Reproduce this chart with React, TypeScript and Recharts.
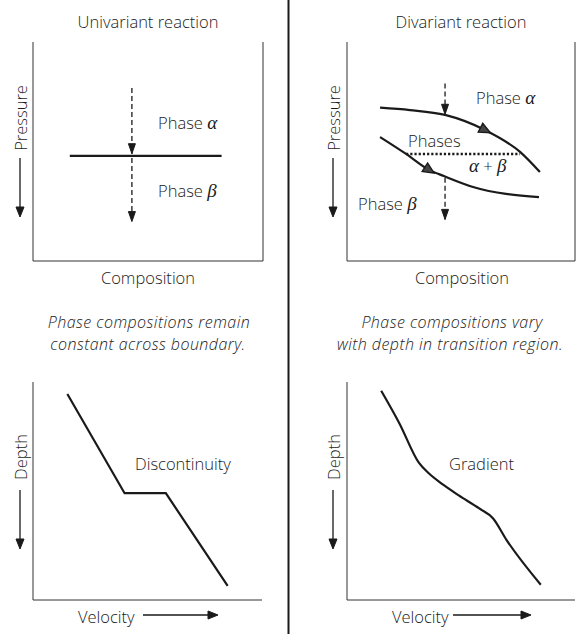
import React from "react";
import { LineChart, Line, XAxis, YAxis, ReferenceLine, ReferenceDot } from "recharts";

// top-left: univariant reaction (domain 0-100 both ways)
const uniBoundary = [{ x: 16, y: 48 }, { x: 82, y: 48 }];
const uniArrowAbove = [{ x: 43, y: 79 }, { x: 43, y: 49 }];
const uniArrowBelow = [{ x: 43, y: 47 }, { x: 43, y: 18 }];

// top-right: divariant reaction
const diUpper = [
  { x: 14.5, y: 70 },
  { x: 27.6, y: 68.9 },
  { x: 43, y: 66.7 },
  { x: 60.5, y: 59.8 },
  { x: 75.9, y: 49.8 },
  { x: 84.6, y: 40.6 },
];
const diLower = [
  { x: 14.5, y: 56.6 },
  { x: 25.9, y: 48.9 },
  { x: 36, y: 41.6 },
  { x: 42.5, y: 38.8 },
  { x: 55.3, y: 33.8 },
  { x: 84.2, y: 29.2 },
];
const diTieLine = [{ x: 25.9, y: 48.9 }, { x: 75.9, y: 48.9 }];
const diArrowAbove = [{ x: 43, y: 81 }, { x: 43, y: 67 }];
const diArrowBelow = [{ x: 43, y: 38 }, { x: 43, y: 19 }];
const diUpperMark = { x: 60.5, y: 59.8 };
const diLowerMark = { x: 36, y: 41.6 };

// bottom-left: velocity-depth with discontinuity
const discProfile = [
  { x: 15, y: 94.5 },
  { x: 40, y: 49 },
  { x: 58, y: 49 },
  { x: 85, y: 6.5 },
];

// bottom-right: velocity-depth with gradient
const gradProfile = [
  { x: 15, y: 96 },
  { x: 23, y: 81 },
  { x: 31.5, y: 63 },
  { x: 36, y: 58 },
  { x: 42, y: 53 },
  { x: 49, y: 48 },
  { x: 58, y: 42 },
  { x: 64, y: 37.5 },
  { x: 70, y: 27.5 },
  { x: 85, y: 7 },
];

const ink = "#1a1a1a";
const axisInk = "#333";
const font = "'Open Sans', 'Noto Sans', sans-serif";
const greek = "'Liberation Serif', 'DejaVu Serif', serif";

// triangle with its tip on (cx, cy), pointing along angle (deg, 0 = right)
const tip = (cx, cy, angle, len = 10, half = 3.5, fill = ink, key = "t") => (
  <path
    key={key}
    d={`M0,0 L${-len},${-half} L${-len},${half} Z`}
    transform={`translate(${cx},${cy}) rotate(${angle})`}
    fill={fill}
    stroke={ink}
    strokeWidth={1}
  />
);

const endArrow = (angle, last) => (props) =>
  props.index === last ? tip(props.cx, props.cy, angle, 10, 3.5, ink, `a${props.index}`) : <g key={`a${props.index}`} />;

const curveMark = (angle) => (props) => (
  <g transform={`translate(${props.cx},${props.cy}) rotate(${angle})`}>
    <path d="M6,0 L-5,-5 L-5,5 Z" fill="#444" stroke={ink} strokeWidth={1.4} />
  </g>
);

const axes = () => [
  <XAxis key="x" type="number" dataKey="x" domain={[0, 100]} hide />,
  <YAxis key="y" type="number" dataKey="y" domain={[0, 100]} hide />,
];

const Panel = ({ left, top, width, height, margin, children }) => (
  <div style={{ position: "absolute", left, top }}>
    <LineChart width={width} height={height} margin={margin}>
      {axes()}
      {children}
    </LineChart>
  </div>
);

const Greek = ({ children }) => (
  <tspan fontFamily={greek} fontStyle="italic" fontWeight={400} fontSize={19}>
    {children}
  </tspan>
);

const downArrow = (x, y1, y2) => (
  <g>
    <line x1={x} y1={y1} x2={x} y2={y2 - 9} stroke={ink} strokeWidth={1.3} />
    {tip(x, y2, 90, 10, 4)}
  </g>
);

const rightArrow = (x1, x2, y) => (
  <g>
    <line x1={x1} y1={y} x2={x2 - 9} y2={y} stroke={ink} strokeWidth={1.3} />
    {tip(x2, y, 0, 10, 4)}
  </g>
);

export default function App() {
  const txt = { fontFamily: font, fontSize: 16.5, fontWeight: 300, fill: ink };
  const ital = { ...txt, fontSize: 16, fontStyle: "italic", letterSpacing: 0.45 };
  return (
    <div style={{ position: "absolute", left: 0, top: 0, width: 576, height: 634, background: "#fff" }}>
      <Panel left={0} top={0} width={288} height={300} margin={{ top: 42, left: 33, right: 25, bottom: 39 }}>
        <ReferenceLine x={0} stroke={axisInk} />
        <ReferenceLine x={100} stroke={axisInk} />
        <ReferenceLine y={0} stroke={axisInk} />
        <Line data={uniBoundary} dataKey="y" type="linear" stroke={ink} strokeWidth={2.2} dot={false} isAnimationActive={false} />
        <Line data={uniArrowAbove} dataKey="y" type="linear" stroke={ink} strokeWidth={1.3} strokeDasharray="5 3" dot={endArrow(90, 1)} isAnimationActive={false} />
        <Line data={uniArrowBelow} dataKey="y" type="linear" stroke={ink} strokeWidth={1.3} strokeDasharray="5 3" dot={endArrow(90, 1)} isAnimationActive={false} />
      </Panel>

      <Panel left={288} top={0} width={288} height={300} margin={{ top: 42, left: 59, right: 1, bottom: 39 }}>
        <ReferenceLine x={0} stroke={axisInk} />
        <ReferenceLine x={100} stroke={axisInk} />
        <ReferenceLine y={0} stroke={axisInk} />
        <Line data={diUpper} dataKey="y" type="monotone" stroke={ink} strokeWidth={2.2} dot={false} isAnimationActive={false} />
        <Line data={diLower} dataKey="y" type="monotone" stroke={ink} strokeWidth={2.2} dot={false} isAnimationActive={false} />
        <Line data={diTieLine} dataKey="y" type="linear" stroke={ink} strokeWidth={2.5} strokeDasharray="2.2 2" dot={false} isAnimationActive={false} />
        <Line data={diArrowAbove} dataKey="y" type="linear" stroke={ink} strokeWidth={1.3} strokeDasharray="5 3" dot={endArrow(90, 1)} isAnimationActive={false} />
        <Line data={diArrowBelow} dataKey="y" type="linear" stroke={ink} strokeWidth={1.3} strokeDasharray="5 3" dot={endArrow(90, 1)} isAnimationActive={false} />
        <ReferenceDot x={diUpperMark.x} y={diUpperMark.y} r={5} shape={curveMark(27)} />
        <ReferenceDot x={diLowerMark.x} y={diLowerMark.y} r={5} shape={curveMark(33)} />
      </Panel>

      <Panel left={0} top={300} width={288} height={334} margin={{ top: 82, left: 33, right: 26, bottom: 34 }}>
        <ReferenceLine x={0} stroke={axisInk} />
        <ReferenceLine y={0} stroke={axisInk} />
        <Line data={discProfile} dataKey="y" type="linear" stroke={ink} strokeWidth={2.2} dot={false} isAnimationActive={false} />
      </Panel>

      <Panel left={288} top={300} width={288} height={334} margin={{ top: 82, left: 59, right: 1, bottom: 34 }}>
        <ReferenceLine x={0} stroke={axisInk} />
        <ReferenceLine y={0} stroke={axisInk} />
        <Line data={gradProfile} dataKey="y" type="monotone" stroke={ink} strokeWidth={2.2} dot={false} isAnimationActive={false} />
      </Panel>

      <svg width={576} height={634} style={{ position: "absolute", left: 0, top: 0, pointerEvents: "none" }}>
        <line x1={288.5} y1={0} x2={288.5} y2={634} stroke={ink} strokeWidth={2} />

        {/* titles */}
        <text {...txt} x={148} y={21} textAnchor="middle" dominantBaseline="central">Univariant reaction</text>
        <text {...txt} x={461} y={21} textAnchor="middle" dominantBaseline="central">Divariant reaction</text>
        <text {...ital} x={149} y={322} textAnchor="middle" dominantBaseline="central">Phase compositions remain</text>
        <text {...ital} x={148} y={344} textAnchor="middle" dominantBaseline="central">constant across boundary.</text>
        <text {...ital} x={452} y={322} textAnchor="middle" dominantBaseline="central">Phase compositions vary</text>
        <text {...ital} x={450} y={344} textAnchor="middle" dominantBaseline="central">with depth in transition region.</text>

        {/* axis names */}
        <text {...txt} x={148} y={277} textAnchor="middle" dominantBaseline="central">Composition</text>
        <text {...txt} x={462} y={277} textAnchor="middle" dominantBaseline="central">Composition</text>
        <text {...txt} transform="translate(20,118) rotate(-90)" textAnchor="middle" dominantBaseline="central">Pressure</text>
        <text {...txt} transform="translate(333,118) rotate(-90)" textAnchor="middle" dominantBaseline="central">Pressure</text>
        {downArrow(20, 158, 217)}
        {downArrow(333, 158, 217)}
        <text {...txt} transform="translate(20,457) rotate(-90)" textAnchor="middle" dominantBaseline="central">Depth</text>
        <text {...txt} transform="translate(333,457) rotate(-90)" textAnchor="middle" dominantBaseline="central">Depth</text>
        {downArrow(20, 490, 549)}
        {downArrow(333, 490, 549)}
        <text {...txt} x={78} y={616} dominantBaseline="central">Velocity</text>
        <text {...txt} x={392} y={616} dominantBaseline="central">Velocity</text>
        {rightArrow(143, 218, 615)}
        {rightArrow(453, 531, 615)}

        {/* in-plot labels */}
        <text {...txt} x={158} y={122} dominantBaseline="central">Phase <Greek>α</Greek></text>
        <text {...txt} x={158} y={190} dominantBaseline="central">Phase <Greek>β</Greek></text>
        <text {...txt} x={476} y={97} dominantBaseline="central">Phase <Greek>α</Greek></text>
        <text {...txt} x={408} y={140} dominantBaseline="central">Phases</text>
        <text {...txt} x={469} y={165} dominantBaseline="central"><Greek>α</Greek> + <Greek>β</Greek></text>
        <text {...txt} x={358} y={203} dominantBaseline="central">Phase <Greek>β</Greek></text>
        <text {...txt} x={135} y={463} dominantBaseline="central">Discontinuity</text>
        <text {...txt} x={449} y={463} dominantBaseline="central">Gradient</text>
      </svg>
    </div>
  );
}
